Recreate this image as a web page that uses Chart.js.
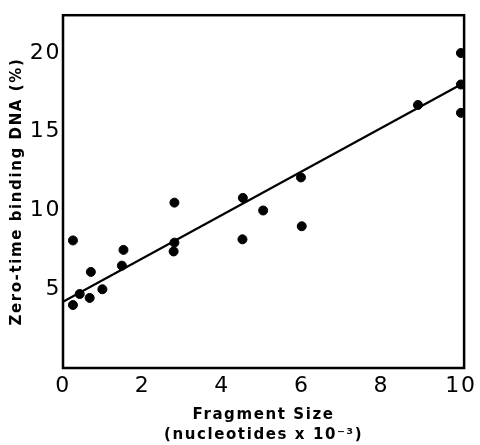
<!DOCTYPE html>
<html>
<head>
<meta charset="utf-8">
<script src="https://cdn.jsdelivr.net/npm/chart.js@4.4.1/dist/chart.umd.min.js"></script>
<style>
  html, body { margin: 0; padding: 0; background: #fff; }
  #wrap { width: 480px; height: 445px; }
</style>
</head>
<body>
<div id="wrap"><canvas id="chart"></canvas></div>
<script>
// measured points: fragment size (x 10^3 nucleotides) vs zero-time binding (%)
var sizes =   [0.25, 0.25, 0.42, 0.67, 0.70, 0.99, 1.48, 1.52, 2.78, 2.80, 2.80, 4.51, 4.52, 5.03, 5.98, 6.00, 8.92, 10.0, 10.0, 10.0];
var binding = [8.1,  4.0,  4.7,  4.45, 6.1,  5.0,  6.5,  7.5,  7.4,  7.96, 10.5, 8.17, 10.8, 10.0, 12.1, 9.0,  16.7, 16.2, 18.0, 20.0];

// regression line end points
var fitX = [0, 10];
var fitY = [4.2, 18.0];

var xTicks = [0, 2, 4, 6, 8, 10];
var yTicks = [5, 10, 15, 20];

var points = sizes.map(function (x, i) { return { x: x, y: binding[i] }; });
var fit = fitX.map(function (x, i) { return { x: x, y: fitY[i] }; });

// frame around the plot area + letter spacing for the old-style lettering
var framePlugin = {
    id: 'frame',
    beforeDraw: function (chart) {
        chart.ctx.letterSpacing = '1.6px';
    },
    afterDatasetsDraw: function (chart) {
        var a = chart.chartArea, ctx = chart.ctx;
        ctx.save();
        ctx.strokeStyle = '#000';
        ctx.lineWidth = 2.5;
        ctx.strokeRect(a.left, a.top, a.right - a.left, a.bottom - a.top);
        ctx.restore();
    }
};

var ctx = document.getElementById('chart').getContext('2d');
var chart = new Chart(ctx, {
    type: 'scatter',
    data: {
        datasets: [{
            label: 'data',
            data: points,
            backgroundColor: '#000',
            borderColor: '#000',
            pointRadius: 4.5,
        }, {
            type: 'line',
            label: 'fit',
            data: fit,
            borderColor: '#000',
            borderWidth: 2.2,
            pointRadius: 0,
            fill: false,
        }],
    },
    plugins: [framePlugin],
    options: {
        responsive: true,
        maintainAspectRatio: false,
        animation: false,
        layout: { padding: { top: 9, right: 11, left: 0, bottom: 0 } },
        plugins: {
            legend: { display: false },
            tooltip: { enabled: false },
        },
        scales: {
            x: {
                type: 'linear',
                min: 0,
                max: 10.08,
                grid: { display: false, drawTicks: false },
                border: { display: false },
                afterBuildTicks: function (s) { s.ticks = xTicks.map(function (v) { return { value: v }; }); },
                afterFit: function (s) { s.height = 77; },
                ticks: {
                    color: '#000',
                    padding: 5,
                    maxRotation: 0,
                    font: { family: 'DejaVu Sans', size: 22 },
                },
                title: {
                    display: true,
                    text: ['Fragment Size', '(nucleotides x 10\u207B\u00B3)'],
                    color: '#000',
                    padding: { top: 1, bottom: 0 },
                    font: { family: 'DejaVu Sans', size: 15, weight: 'bold', lineHeight: 1.35 },
                },
            },
            y: {
                type: 'linear',
                min: 0,
                max: 22.4,
                grid: { display: false, drawTicks: false },
                border: { display: false },
                afterBuildTicks: function (s) { s.ticks = yTicks.map(function (v) { return { value: v }; }); },
                afterFit: function (s) { s.width = 63; },
                ticks: {
                    color: '#000',
                    padding: 2,
                    font: { family: 'DejaVu Sans', size: 22 },
                },
                title: {
                    display: true,
                    text: 'Zero-time binding DNA (%)',
                    color: '#000',
                    padding: { top: 8, bottom: 0 },
                    font: { family: 'DejaVu Sans', size: 15, weight: 'bold' },
                },
            },
        },
    },
});
</script>
</body>
</html>
